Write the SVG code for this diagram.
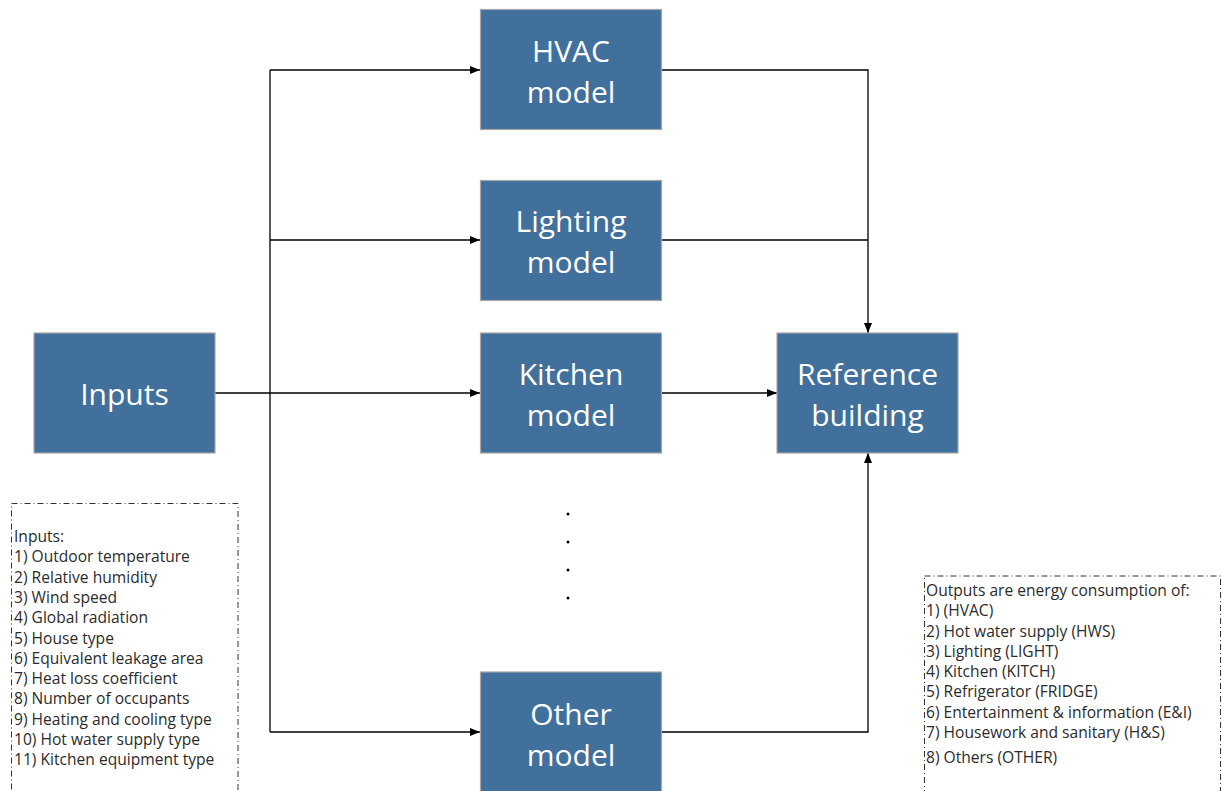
<svg xmlns="http://www.w3.org/2000/svg" width="1222" height="791" viewBox="0 0 1222 791">
<style>
.box{fill:#41709c;stroke:#a6a6a6;stroke-width:1.2}
.bt{font-family:"Open Sans","Liberation Sans",sans-serif;font-size:30px;fill:#ffffff;text-anchor:middle}
.wire{fill:none;stroke:#000;stroke-width:1.3}
.note{fill:none;stroke:#333;stroke-width:1;stroke-dasharray:6 3 1 3}
.nt{font-family:"Open Sans","Liberation Sans",sans-serif;font-size:15.6px;fill:#2b2b2b}
</style>
<defs>
<marker id="arr" viewBox="0 0 10 8" refX="10" refY="4" markerWidth="10" markerHeight="8" markerUnits="userSpaceOnUse" orient="auto">
<path d="M0,0 L10,4 L0,8 Z" fill="#000"/>
</marker>
</defs>
<rect width="1222" height="791" fill="#fff"/>
<g id="connectors">
<path class="wire" d="M215,393 H480" marker-end="url(#arr)"/>
<path class="wire" d="M270,70 V732"/>
<path class="wire" d="M270,70 H480" marker-end="url(#arr)"/>
<path class="wire" d="M270,240 H480" marker-end="url(#arr)"/>
<path class="wire" d="M270,732 H480" marker-end="url(#arr)"/>
<path class="wire" d="M662,70 H868 V333" marker-end="url(#arr)"/>
<path class="wire" d="M662,240 H868"/>
<path class="wire" d="M662,393 H777" marker-end="url(#arr)"/>
<path class="wire" d="M662,732 H868 V453" marker-end="url(#arr)"/>
</g>
<g id="inputs">
<rect class="box" x="34" y="333" width="181" height="120"/>
<text class="bt" x="124.5" y="405">Inputs</text>
</g>
<g id="hvac">
<rect class="box" x="480.5" y="9.5" width="181" height="120"/>
<text class="bt" x="571" y="62">HVAC</text>
<text class="bt" x="571" y="103">model</text>
</g>
<g id="lighting">
<rect class="box" x="480.5" y="180.5" width="181" height="120"/>
<text class="bt" x="571" y="232">Lighting</text>
<text class="bt" x="571" y="273">model</text>
</g>
<g id="kitchen">
<rect class="box" x="480.5" y="333" width="181" height="120"/>
<text class="bt" x="571" y="385">Kitchen</text>
<text class="bt" x="571" y="426">model</text>
</g>
<g id="other">
<rect class="box" x="480.5" y="672" width="181" height="125"/>
<text class="bt" x="571" y="725">Other</text>
<text class="bt" x="571" y="766">model</text>
</g>
<g id="reference">
<rect class="box" x="777" y="333" width="181" height="120"/>
<text class="bt" x="867.5" y="385">Reference</text>
<text class="bt" x="867.5" y="426">building</text>
</g>
<g id="ellipsis" fill="#000">
<circle cx="568" cy="514" r="1.5"/>
<circle cx="568" cy="542" r="1.5"/>
<circle cx="568" cy="570" r="1.5"/>
<circle cx="568" cy="598" r="1.5"/>
</g>
<g id="inputs-note">
<rect class="note" x="11.5" y="503.5" width="226.5" height="300"/>
<text class="nt">
<tspan x="14" y="542">Inputs:</tspan>
<tspan x="14" y="562.3">1) Outdoor temperature</tspan>
<tspan x="14" y="582.6">2) Relative humidity</tspan>
<tspan x="14" y="602.9">3) Wind speed</tspan>
<tspan x="14" y="623.2">4) Global radiation</tspan>
<tspan x="14" y="643.5">5) House type</tspan>
<tspan x="14" y="663.8">6) Equivalent leakage area</tspan>
<tspan x="14" y="684.1">7) Heat loss coefficient</tspan>
<tspan x="14" y="704.4">8) Number of occupants</tspan>
<tspan x="14" y="724.7">9) Heating and cooling type</tspan>
<tspan x="14" y="745">10) Hot water supply type</tspan>
<tspan x="14" y="765.3">11) Kitchen equipment type</tspan>
</text>
</g>
<g id="outputs-note">
<rect class="note" x="924.5" y="576" width="296" height="230"/>
<text class="nt">
<tspan x="926" y="596">Outputs are energy consumption of:</tspan>
<tspan x="926" y="616">1) (HVAC)</tspan>
<tspan x="926" y="636.5">2) Hot water supply (HWS)</tspan>
<tspan x="926" y="657">3) Lighting (LIGHT)</tspan>
<tspan x="926" y="677">4) Kitchen (KITCH)</tspan>
<tspan x="926" y="697">5) Refrigerator (FRIDGE)</tspan>
<tspan x="926" y="718">6) Entertainment &amp; information (E&amp;I)</tspan>
<tspan x="926" y="738">7) Housework and sanitary (H&amp;S)</tspan>
<tspan x="926" y="763">8) Others (OTHER)</tspan>
</text>
</g>
</svg>
